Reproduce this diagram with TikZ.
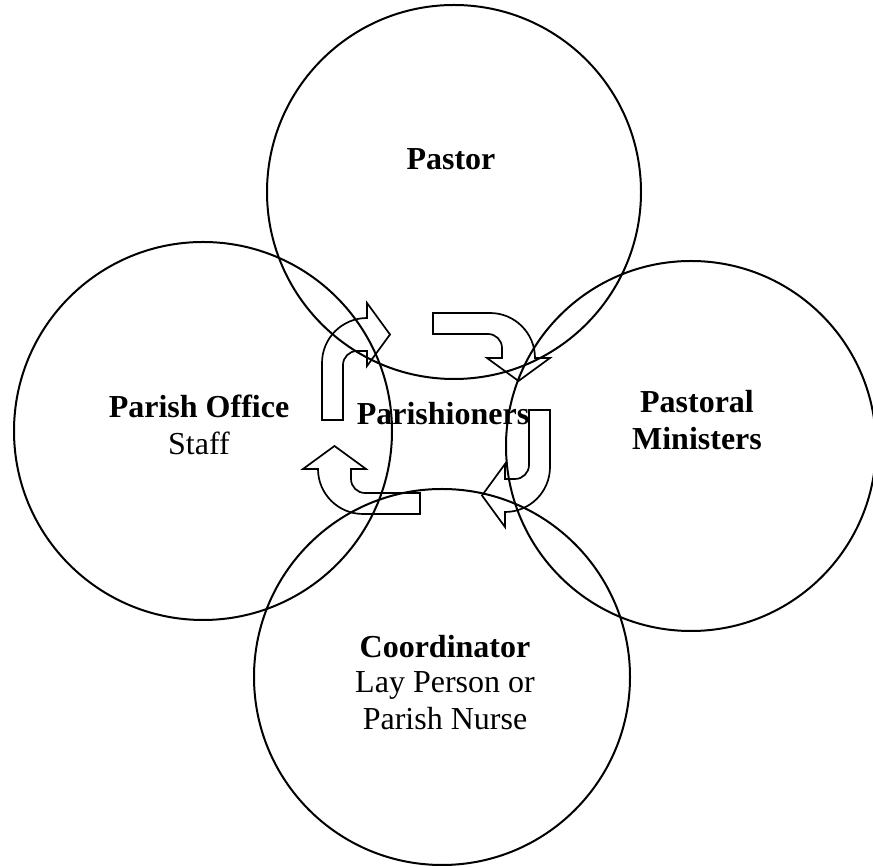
\documentclass[tikz,border=0pt]{standalone}
\usepackage{fontspec}
\setmainfont{Liberation Serif}
\begin{document}
\begin{tikzpicture}[x=1pt,y=1pt,
  ring/.style={circle,draw,line width=2pt,inner sep=0pt},
  arrowline/.style={draw,line width=1.7pt,line join=miter},
  lbl/.style={anchor=base,inner sep=0pt,font=\fontsize{32}{37}\selectfont},
  blbl/.style={lbl,font=\fontsize{32}{37}\selectfont\bfseries},
  uturn/.pic={\path[arrowline] (0,0) -- (57,0) arc[start angle=90,end angle=0,radius=45]
     -- (117,-45) -- (85.5,-68) -- (54,-45) -- (69,-45) -- (69,-35)
     arc[start angle=0,end angle=90,radius=14] -- (0,-21) -- cycle;}]
\useasboundingbox (0,0) rectangle (873,867);
\clip (0,0) rectangle (873,867);
% circles
\node[ring,minimum size=374pt] (pastor) at (454,675) {};
\node[ring,minimum size=378pt] (office) at (203,436) {};
\node[ring,minimum size=370pt] (ministers) at (691,421) {};
\node[ring,minimum size=376pt] (coord) at (442,190) {};
% U-turn arrows (clockwise)
\pic[shift={(322,447)},rotate=90] {uturn};
\pic[shift={(433,554)}] {uturn};
\pic[shift={(550,457)},rotate=-90] {uturn};
\pic[shift={(420,353)},rotate=180] {uturn};
% labels
\node[blbl] (tpastor) at (451,697) {Pastor};
\node[blbl] (toffice) at (199,449) {Parish Office};
\node[lbl] (tstaff) at (199,412) {Staff};
\node[blbl] (tpar) at (443,442) {Parishioners};
\node[blbl] (tpastoral) at (697,454) {Pastoral};
\node[blbl] (tmin) at (697,417) {Ministers};
\node[blbl] (tcoord) at (445,209) {Coordinator};
\node[lbl] (tlay) at (445,174) {Lay Person or};
\node[lbl] (tnurse) at (445,137) {Parish Nurse};
\end{tikzpicture}
\end{document}
